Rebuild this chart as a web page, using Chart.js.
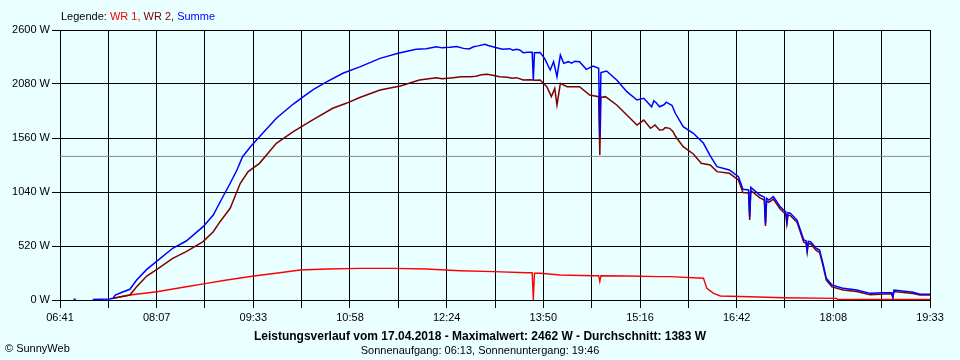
<!DOCTYPE html>
<html>
<head>
<meta charset="utf-8">
<title>Leistungsverlauf</title>
<script src="https://cdn.jsdelivr.net/npm/chart.js@4.4.1/dist/chart.umd.min.js"></script>
<style>
  html, body { margin: 0; padding: 0; background: #eaffff; }
  canvas { display: block; }
</style>
</head>
<body>
<canvas id="chart" width="960" height="360"></canvas>
<script>
// x axis range and tick labels (labels on every other grid line)
const xStart = '06:41';
const xEnd = '19:33';
const xTickLabels = ['06:41', '08:07', '09:33', '10:58', '12:24', '13:50', '15:16', '16:42', '18:08', '19:33'];
const yTicks = [0, 520, 1040, 1560, 2080, 2600];
const avgValue = 1383;

// Summe (blue)
const sumTimes = ['06:53','06:55','06:56','07:10','07:25','07:28','07:30','07:36','07:43','07:49','07:58','08:07','08:21','08:33','08:48','08:57',
  '09:04','09:12','09:18','09:23','09:30','09:38','09:53','10:08','10:17','10:26','10:38','10:52','11:07','11:25','11:41','11:57','12:06','12:15',
  '12:20','12:27','12:33','12:39','12:44','12:48','12:52','12:58','13:01','13:05','13:10','13:14','13:20','13:23','13:26','13:29','13:32','13:36',
  '13:40','13:41','13:42','13:47','13:51','13:56','13:59','14:02','14:05','14:08','14:12','14:15','14:18','14:22','14:28','14:34','14:39','14:40',
  '14:41','14:46','14:55','15:04','15:13','15:19','15:26','15:28','15:30','15:33','15:37','15:39','15:42','15:44','15:47',
  '15:54','16:03','16:12','16:18','16:24','16:35','16:43','16:47','16:52','16:53','16:54','17:02','17:06','17:07','17:08','17:10','17:14','17:20',
  '17:23','17:25','17:26','17:27','17:29','17:35','17:41','17:43','17:44','17:45','17:47','17:52','17:55','17:58','18:01','18:06','18:16','18:28',
  '18:40','18:52','18:59','19:00','19:01','19:18','19:24','19:33'];
const sumValues = [8,8,null,6,10,16,48,74,103,193,295,375,498,568,706,818,
  963,1124,1252,1380,1476,1573,1750,1887,1958,2029,2102,2183,2245,2327,2376,2414,2420,2439,
  2428,2433,2441,2423,2418,2439,2447,2462,2450,2439,2425,2414,2420,2405,2414,2408,2382,2386,
  2385,2118,2380,2382,2327,2215,2295,2150,2359,2279,2295,2280,2300,2295,2221,2253,2231,1573,
  2190,2205,2118,2006,1926,1942,1861,1919,1900,1861,1880,1905,1887,1875,1798,
  1669,1605,1509,1387,1284,1252,1188,1066,1060,802,1085,1011,990,738,980,963,995,899,
  867,850,754,840,835,770,578,570,481,565,562,498,481,353,209,144,112,96,
  64,71,71,32,96,74,55,55];

// WR 2 (dark red)
const wr2Times = ['07:28','07:43','07:49','07:58','08:07','08:21','08:33','08:48','08:57','09:03','09:12','09:21','09:28','09:38','09:53','10:08',
  '10:26','10:43','10:55','11:07','11:25','11:43','12:00','12:15','12:20','12:30','12:37','12:45','12:50','12:55','13:00','13:05','13:11','13:18',
  '13:22','13:26','13:32','13:38','13:43','13:47','13:53','13:57','14:00',
  '14:02','14:05','14:11','14:22','14:31','14:39','14:40','14:41','14:45','14:55','15:04','15:13','15:19','15:25','15:29','15:33','15:36','15:38',
  '15:42','15:45','15:47',
  '15:54','16:03','16:10','16:18','16:24','16:35','16:43','16:47','16:52','16:53','16:54','17:02','17:06','17:07','17:08','17:10','17:14','17:20',
  '17:23','17:25','17:26','17:27','17:29','17:35','17:41','17:43','17:44','17:45','17:47','17:52','17:55','17:58','18:01','18:06','18:16','18:28',
  '18:40','18:52','18:59','19:00','19:01','19:18','19:24','19:33'];
const wr2Values = [16,48,128,231,295,401,465,562,658,754,883,1124,1236,1316,1509,1621,
  1740,1846,1894,1950,2022,2061,2118,2141,2130,2141,2150,2150,2155,2168,2173,2165,2150,2145,
  2135,2141,2118,2122,2115,2118,2054,1958,2038,
  1878,2086,2054,2054,1974,1958,1396,1950,1958,1878,1781,1685,1733,1653,1685,1637,1640,1660,
  1653,1620,1579,
  1476,1406,1316,1300,1236,1220,1156,1034,1030,770,1055,983,962,712,955,940,972,877,
  845,828,732,818,813,749,557,549,460,544,541,477,460,333,190,126,96,82,
  50,57,57,20,82,62,47,47];

// WR 1 (red)
const wr1Times = ['07:28','07:43','08:07','08:33','08:51','09:09','09:33','09:56','10:14','10:38','11:07','11:37','12:06','12:36','13:06','13:35',
  '13:40','13:41','13:42','13:47','14:05','14:34','14:39','14:40','14:41','15:04','15:33','15:42','16:12','16:15','16:21','16:27','16:53','17:23',
  '18:10','18:11','19:33'];
const wr1Values = [16,48,80,128,160,193,231,263,289,298,305,305,298,282,273,263,
  263,0,257,257,241,234,234,177,234,231,225,225,209,112,64,39,32,22,
  16,5,5];

function toMin(s) {
  const [h, m] = s.split(':');
  return Number(h) * 60 + Number(m);
}

function toPoints(times, values) {
  return times.map((t, i) => ({ x: toMin(t), y: values[i] }));
}

const xMin = toMin(xStart);
const xMax = toMin(xEnd);
// grid lines every half label step
const gridStep = (xMax - xMin) / ((xTickLabels.length - 1) * 2);

const FONT = '"Liberation Sans", Arial, sans-serif';

// background + texts around the plot
const sunnyText = {
  id: 'sunnyText',
  beforeDraw(chart) {
    const ctx = chart.ctx;
    ctx.save();
    ctx.fillStyle = '#eaffff';
    ctx.fillRect(0, 0, chart.width, chart.height);
    ctx.restore();
  },
  afterDraw(chart) {
    const ctx = chart.ctx;
    ctx.save();
    ctx.textBaseline = 'middle';
    ctx.font = '11px ' + FONT;

    // legend line
    const parts = [['Legende: ', '#000000'], ['WR 1, ', '#ff0000'], ['WR 2, ', '#800000'], ['Summe', '#0000ff']];
    let x = 61;
    parts.forEach(p => {
      ctx.fillStyle = p[1];
      ctx.fillText(p[0], x, 17);
      x += ctx.measureText(p[0]).width;
    });

    ctx.fillStyle = '#000000';
    ctx.textAlign = 'center';
    ctx.font = 'bold 12px ' + FONT;
    ctx.fillText('Leistungsverlauf vom 17.04.2018 - Maximalwert: 2462 W - Durchschnitt: ' + avgValue + ' W', 480, 337);
    ctx.font = '11px ' + FONT;
    ctx.fillText('Sonnenaufgang: 06:13, Sonnenuntergang: 19:46', 480, 351);

    ctx.textAlign = 'left';
    ctx.fillText('\u00a9 SunnyWeb', 5, 349);
    ctx.restore();
  }
};

const ctx = document.getElementById('chart').getContext('2d');

new Chart(ctx, {
  type: 'line',
  data: {
    datasets: [
      {
        label: 'Summe',
        data: toPoints(sumTimes, sumValues),
        borderColor: '#0000ff',
        borderWidth: 1.5,
        pointRadius: 0,
        spanGaps: false,
      },
      {
        label: 'WR 2',
        data: toPoints(wr2Times, wr2Values),
        borderColor: '#800000',
        borderWidth: 1.5,
        pointRadius: 0,
      },
      {
        label: 'WR 1',
        data: toPoints(wr1Times, wr1Values),
        borderColor: '#ff0000',
        borderWidth: 1.4,
        pointRadius: 0,
      },
      {
        label: 'Durchschnitt',
        data: [{ x: xMin, y: avgValue }, { x: xMax, y: avgValue }],
        borderColor: '#888888',
        borderWidth: 1,
        pointRadius: 0,
      },
    ]
  },
  options: {
    responsive: false,
    animation: false,
    devicePixelRatio: 1,
    layout: { padding: { top: 30, right: 30, left: 0, bottom: 0 } },
    plugins: {
      legend: { display: false },
      tooltip: { enabled: false },
    },
    scales: {
      x: {
        type: 'linear',
        min: xMin,
        max: xMax,
        afterBuildTicks: (scale) => {
          const ticks = [];
          for (let i = 0; i <= (xTickLabels.length - 1) * 2; i++) {
            ticks.push({ value: xMin + i * gridStep });
          }
          scale.ticks = ticks;
        },
        afterFit: (scale) => { scale.height = 60; },
        grid: { color: '#000000', lineWidth: 1, tickLength: 8, tickColor: '#000000' },
        border: { color: '#000000', width: 1 },
        ticks: {
          autoSkip: false,
          maxRotation: 0,
          padding: 3,
          color: '#000000',
          font: { family: FONT, size: 11 },
          callback: (value, index) => index % 2 === 0 ? xTickLabels[index / 2] : '',
        },
      },
      y: {
        min: 0,
        max: 2600,
        afterBuildTicks: (scale) => {
          scale.ticks = yTicks.map(v => ({ value: v }));
        },
        afterFit: (scale) => { scale.width = 60; },
        grid: { color: '#000000', lineWidth: 1, tickLength: 8, tickColor: '#000000' },
        border: { color: '#000000', width: 1 },
        ticks: {
          padding: 2,
          color: '#000000',
          font: { family: FONT, size: 11 },
          callback: (value) => value + ' W',
        },
      },
    },
  },
  plugins: [sunnyText],
});
</script>
</body>
</html>
